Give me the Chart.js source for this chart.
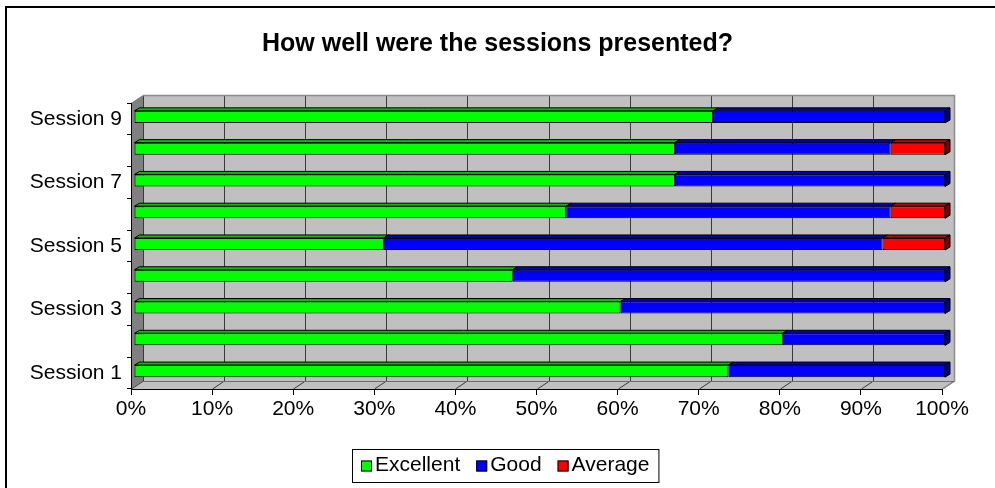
<!DOCTYPE html>
<html>
<head>
<meta charset="utf-8">
<script src="https://cdn.jsdelivr.net/npm/chart.js@4.4.1/dist/chart.umd.min.js"></script>
<style>
  html, body { margin: 0; padding: 0; background: #fff; }
  canvas { display: block; }
</style>
</head>
<body>
<canvas id="chart" width="995" height="488"></canvas>
<script>
// Survey results per session (percent of respondents)
const sessions  = ['Session 1', 'Session 2', 'Session 3', 'Session 4', 'Session 5',
                   'Session 6', 'Session 7', 'Session 8', 'Session 9'];
const excellent = [73.3, 80.0, 60.0, 46.7, 30.8, 53.3, 66.7, 66.7, 71.4];
const good      = [26.7, 20.0, 40.0, 53.3, 61.5, 40.0, 33.3, 26.6, 28.6];
const average   = [null, null, null, null, 7.7, 6.7, null, 6.7, null];
const seriesNames = ['Excellent', 'Good', 'Average'];
const percentTicks = [0, 10, 20, 30, 40, 50, 60, 70, 80, 90, 100];

const FONT = "'Liberation Sans', Arial, sans-serif";

// depth of the box and of the bars (pixels, right / up)
const WALL = { dx: 12, dy: 8 };
const BAR_FRONT = { dx: 3, dy: 2 };
const BAR_DEPTH = { dx: 5, dy: 3 };

function poly(ctx, pts, fill, stroke) {
  ctx.beginPath();
  ctx.moveTo(pts[0][0], pts[0][1]);
  for (let i = 1; i < pts.length; i++) ctx.lineTo(pts[i][0], pts[i][1]);
  ctx.closePath();
  if (fill) { ctx.fillStyle = fill; ctx.fill(); }
  if (stroke) { ctx.strokeStyle = stroke; ctx.lineWidth = 1; ctx.stroke(); }
}

const box3d = {
  id: 'box3d',
  beforeDraw(chart) {
    const { ctx, chartArea: a, scales: { x } } = chart;
    const L = a.left, R = a.right, T = a.top, B = a.bottom;
    ctx.save();
    ctx.fillStyle = '#fff';
    ctx.fillRect(0, 0, chart.width, chart.height);
    // outer frame
    ctx.fillStyle = '#000';
    ctx.fillRect(5, 6, 2, chart.height);
    ctx.fillRect(5, 6, chart.width, 2);

    // back wall
    ctx.fillStyle = '#c0c0c0';
    ctx.fillRect(L + WALL.dx, T - WALL.dy, R - L, B - T);
    // side wall
    poly(ctx, [[L, T], [L + WALL.dx, T - WALL.dy], [L + WALL.dx, B - WALL.dy], [L, B]], '#808080');
    // floor
    poly(ctx, [[L, B], [L + WALL.dx, B - WALL.dy], [R + WALL.dx, B - WALL.dy], [R, B]], '#c0c0c0');

    // value gridlines on the back wall and across the floor
    ctx.strokeStyle = '#3a3a3a';
    ctx.lineWidth = 1;
    x.ticks.forEach(t => {
      const px = Math.round(x.getPixelForValue(t.value));
      ctx.beginPath();
      ctx.moveTo(px + WALL.dx + 0.5, T - WALL.dy);
      ctx.lineTo(px + WALL.dx + 0.5, B - WALL.dy);
      ctx.stroke();
      ctx.beginPath();
      ctx.moveTo(px + 0.5, B);
      ctx.lineTo(px + WALL.dx + 0.5, B - WALL.dy);
      ctx.stroke();
    });
    // wall edges
    ctx.strokeStyle = '#8c8c8c';
    ctx.lineWidth = 1.5;
    ctx.beginPath();
    ctx.moveTo(L + WALL.dx, T - WALL.dy + 0.5);
    ctx.lineTo(R + WALL.dx + 0.5, T - WALL.dy + 0.5);
    ctx.lineTo(R + WALL.dx + 0.5, B - WALL.dy);
    ctx.lineTo(R + 0.5, B);
    ctx.stroke();
    ctx.strokeStyle = '#6e6e6e';
    ctx.lineWidth = 1;
    ctx.beginPath();
    ctx.moveTo(L + WALL.dx, B - WALL.dy + 0.5);
    ctx.lineTo(R + WALL.dx, B - WALL.dy + 0.5);
    ctx.stroke();
    ctx.restore();
  },
  beforeDatasetsDraw(chart) {
    chart.ctx.save();
    chart.ctx.translate(BAR_FRONT.dx, -BAR_FRONT.dy);
  },
  afterDatasetsDraw(chart) {
    const ctx = chart.ctx;
    ctx.restore();
    ctx.save();
    ctx.lineJoin = 'miter';
    const n = chart.data.labels.length;
    const lastSeg = new Array(n).fill(null);
    chart.data.datasets.forEach((ds, di) => {
      const meta = chart.getDatasetMeta(di);
      meta.data.forEach((el, i) => {
        if (ds.data[i] == null) return;
        const left = Math.min(el.x, el.base) + BAR_FRONT.dx;
        const right = Math.max(el.x, el.base) + BAR_FRONT.dx;
        const top = el.y - el.height / 2 - BAR_FRONT.dy;
        // top face
        poly(ctx, [[left, top], [left + BAR_DEPTH.dx, top - BAR_DEPTH.dy],
                   [right + BAR_DEPTH.dx, top - BAR_DEPTH.dy], [right, top]], ds.topColor, '#000');
        lastSeg[i] = { ds, el };
      });
    });
    // end faces of the rightmost segment in each row
    lastSeg.forEach(s => {
      if (!s) return;
      const right = Math.max(s.el.x, s.el.base) + BAR_FRONT.dx;
      const top = s.el.y - s.el.height / 2 - BAR_FRONT.dy;
      const bottom = s.el.y + s.el.height / 2 - BAR_FRONT.dy;
      poly(ctx, [[right, top], [right + BAR_DEPTH.dx, top - BAR_DEPTH.dy],
                 [right + BAR_DEPTH.dx, bottom - BAR_DEPTH.dy], [right, bottom]], s.ds.sideColor, '#000');
    });
    ctx.restore();
  },
  afterDraw(chart) {
    // legend box
    const ctx = chart.ctx;
    ctx.save();
    ctx.font = '21px ' + FONT;
    ctx.textBaseline = 'middle';
    const boxTop = 449, boxH = 33, pad = 9, sw = 11, gap = 3, itemGap = 16;
    const widths = chart.data.datasets.map(ds => ctx.measureText(ds.label).width);
    const total = widths.reduce((s, w) => s + sw + gap + w, 0) + itemGap * (widths.length - 1) + pad * 2;
    const boxLeft = 352;
    ctx.fillStyle = '#fff';
    ctx.fillRect(boxLeft, boxTop, total, boxH);
    ctx.strokeStyle = '#000';
    ctx.lineWidth = 1;
    ctx.strokeRect(boxLeft + 0.5, boxTop + 0.5, total, boxH);
    let cx = boxLeft + pad;
    const cy = boxTop + boxH / 2;
    chart.data.datasets.forEach((ds, i) => {
      ctx.fillStyle = ds.backgroundColor;
      ctx.fillRect(cx, cy - sw / 2 + 0.5, sw, sw);
      ctx.strokeRect(cx + 0.5, cy - sw / 2 + 1, sw - 1, sw - 1);
      ctx.fillStyle = '#000';
      ctx.fillText(ds.label, cx + sw + gap, cy);
      cx += sw + gap + widths[i] + itemGap;
    });
    ctx.restore();
  }
};

const seriesStyle = [
  { fill: '#00ff00', top: '#00c000', side: '#008000' },
  { fill: '#0000ff', top: '#0000c0', side: '#000080' },
  { fill: '#ff0000', top: '#c00000', side: '#800000' }
];
const seriesData = [excellent, good, average];

new Chart(document.getElementById('chart'), {
  type: 'bar',
  data: {
    labels: sessions,
    datasets: seriesData.map((d, i) => ({
      label: seriesNames[i],
      data: d,
      backgroundColor: seriesStyle[i].fill,
      topColor: seriesStyle[i].top,
      sideColor: seriesStyle[i].side,
      borderColor: '#000',
      borderWidth: 1,
      borderSkipped: false,
      inflateAmount: 0,
      categoryPercentage: 1,
      barPercentage: 0.38,
      clip: false
    }))
  },
  options: {
    indexAxis: 'y',
    responsive: false,
    animation: false,
    events: [],
    layout: { padding: 0 },
    scales: {
      x: {
        type: 'linear',
        stacked: true,
        min: 0,
        max: 100,
        afterFit: s => { s.height = 99; },
        afterBuildTicks: s => { s.ticks = percentTicks.map(v => ({ value: v })); },
        ticks: {
          callback: v => v + '%',
          color: '#000',
          font: { family: FONT, size: 21 },
          padding: 2,
          maxRotation: 0
        },
        grid: { drawOnChartArea: false, drawTicks: true, tickLength: 6, color: '#000' },
        border: { display: true, color: '#000' }
      },
      y: {
        stacked: true,
        reverse: true,
        afterFit: s => { s.width = 131; },
        ticks: {
          autoSkip: false,
          callback: (v, i) => (i % 2 === 0 ? sessions[v] : ''),
          color: '#000',
          font: { family: FONT, size: 21 },
          padding: 5
        },
        grid: { offset: true, drawOnChartArea: false, drawTicks: true, tickLength: 4, color: '#000' },
        border: { display: true, color: '#000' }
      },
      // empty right-hand margin so the plot box keeps its width while the title stays centred on the page
      gutter: {
        type: 'linear',
        axis: 'y',
        position: 'right',
        afterFit: s => { s.width = 53; },
        ticks: { display: false },
        grid: { display: false },
        border: { display: false }
      }
    },
    plugins: {
      legend: { display: false },
      tooltip: { enabled: false },
      title: {
        display: true,
        text: 'How well were the sessions presented?',
        color: '#000',
        font: { family: FONT, size: 25, weight: 'bold' },
        padding: { top: 29, bottom: 44 }
      }
    }
  },
  plugins: [box3d]
});
</script>
</body>
</html>
